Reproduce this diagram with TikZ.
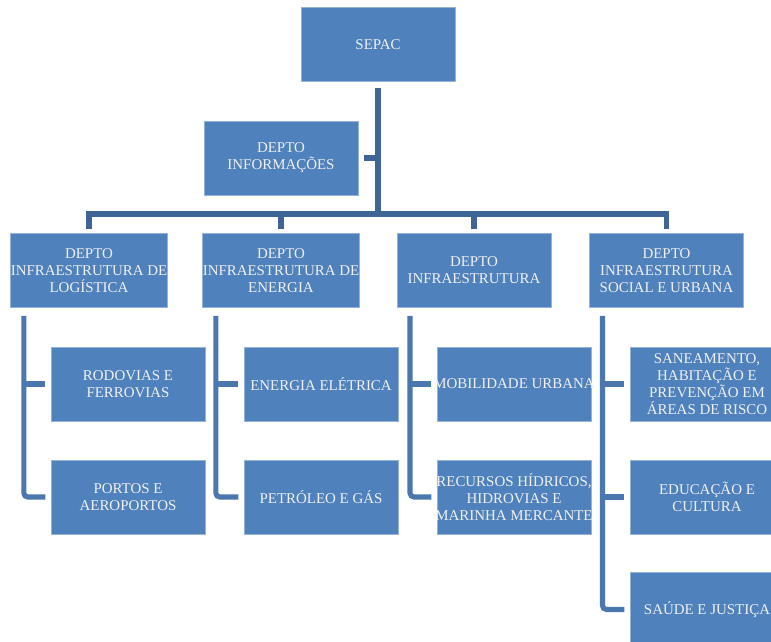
\documentclass[tikz,border=0pt]{standalone}
\usepackage{fontspec}
\setmainfont{Liberation Serif}
\definecolor{boxblue}{HTML}{4F81BD}
\definecolor{trunkblue}{HTML}{3F6597}
\definecolor{linkblue}{HTML}{4A78AE}
\tikzset{
  unitbox/.style={fill=boxblue,draw=boxblue!60!white,line width=0.5pt,
    minimum width=115.5pt,minimum height=55.5pt,inner xsep=0pt,inner ysep=1pt,
    align=center,text=white!94!black,
    font=\fontsize{11.2}{12.75}\selectfont},
  tightbox/.style={unitbox,inner xsep=-3pt},
  trunk/.style={draw=trunkblue,line width=4pt},
  link/.style={draw=linkblue,line width=3.8pt},
}
\begin{document}
\begin{tikzpicture}[x=0.75pt,y=-0.75pt]
  \clip (0,0) rectangle (771,642);
  % top
  \node[unitbox] (sepac) at (378,44.5) {SEPAC};
  \node[unitbox] (info) at (281,158) {DEPTO\\INFORMAÇÕES};
  % departments
  \node[unitbox] (d1) at (89,270.5) {DEPTO\\INFRAESTRUTURA DE\\LOGÍSTICA};
  \node[unitbox] (d2) at (281,270.5) {DEPTO\\INFRAESTRUTURA DE\\ENERGIA};
  \node[unitbox] (d3) at (474,270.5) {DEPTO\\INFRAESTRUTURA};
  \node[unitbox] (d4) at (666.5,270.5) {DEPTO\\INFRAESTRUTURA\\SOCIAL E URBANA};
  % sub units
  \node[unitbox] (c11) at (128,384) {RODOVIAS E\\FERROVIAS};
  \node[unitbox] (c12) at (128,497) {PORTOS E\\AEROPORTOS};
  \node[unitbox] (c21) at (321,384) {ENERGIA ELÉTRICA};
  \node[unitbox] (c22) at (321,497) {PETRÓLEO E GÁS};
  \node[tightbox] (c31) at (514,384) {MOBILIDADE URBANA};
  \node[tightbox] (c32) at (514,497) {RECURSOS HÍDRICOS,\\HIDROVIAS E\\MARINHA MERCANTE};
  \node[unitbox] (c41) at (707,384) {SANEAMENTO,\\HABITAÇÃO E\\PREVENÇÃO EM\\ÁREAS DE RISCO};
  \node[unitbox] (c42) at (707,497) {EDUCAÇÃO E\\CULTURA};
  \node[unitbox] (c43) at (707,609.5) {SAÚDE E JUSTIÇA};
  \coordinate (bar) at (378,214);
  % connectors
  \draw[trunk,shorten <=4.5pt] (sepac.south) -- (bar);
  \draw[trunk,shorten <=4.5pt] (info.east) -- (info.east -| sepac.south);
  \draw[trunk,shorten <=3pt,shorten >=3pt] (d1.north) |- (bar) -| (d4.north);
  \foreach \d in {d2,d3}
    \draw[trunk,shorten <=3pt] (\d.north) -- (\d.north |- bar);
  \foreach \d/\a/\b in {d1/c11/c12, d2/c21/c22, d3/c31/c32} {
    \draw[link,rounded corners=3pt,shorten <=6pt,shorten >=4pt]
      ([xshift=10pt]\d.south west) |- (\b.west);
    \draw[link,shorten >=4pt] ([xshift=10pt]\d.south west |- \a.west) -- (\a.west);
  }
  \draw[link,rounded corners=3pt,shorten <=6pt,shorten >=4pt]
    ([xshift=10pt]d4.south west) |- (c43.west);
  \foreach \c in {c41,c42}
    \draw[link,shorten >=4pt] ([xshift=10pt]d4.south west |- \c.west) -- (\c.west);
\end{tikzpicture}
\end{document}
